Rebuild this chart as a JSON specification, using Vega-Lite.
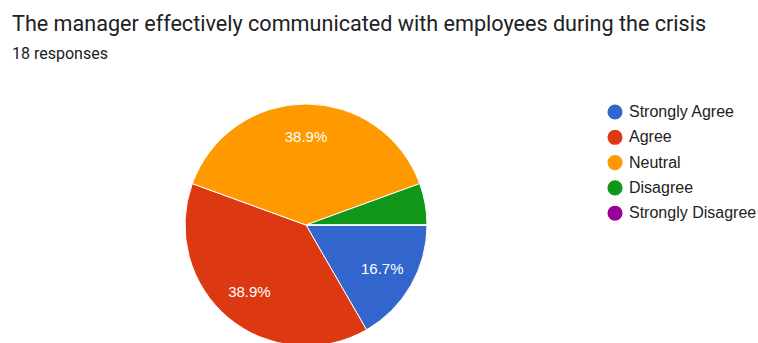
{
  "$schema": "https://vega.github.io/schema/vega-lite/v6.json",
  "width": 588,
  "height": 242,
  "autosize": {"type": "none"},
  "padding": {"left": 12, "top": 104, "right": 158, "bottom": 0},
  "background": "white",
  "view": {"stroke": null},
  "title": {
    "text": "The manager effectively communicated with employees during the crisis",
    "subtitle": "18 responses",
    "anchor": "start",
    "frame": "group",
    "font": "Roboto",
    "fontSize": 21.6,
    "fontWeight": "normal",
    "color": "#202124",
    "subtitleFont": "Roboto",
    "subtitleFontSize": 16,
    "subtitleColor": "#202124",
    "offset": 40,
    "subtitlePadding": 10
  },
  "data": {
    "values": [
      {"answer": "Strongly Agree", "count": 3, "rank": 1, "label": "16.7%"},
      {"answer": "Agree", "count": 7, "rank": 2, "label": "38.9%"},
      {"answer": "Neutral", "count": 7, "rank": 3, "label": "38.9%"},
      {"answer": "Disagree", "count": 1, "rank": 4, "label": ""},
      {"answer": "Strongly Disagree", "count": 0, "rank": 5, "label": ""}
    ]
  },
  "encoding": {
    "theta": {"field": "count", "type": "quantitative", "stack": true, "scale": {"range": [1.5707963, 7.8539816]}},
    "order": {"field": "rank", "type": "quantitative", "sort": "ascending"}
  },
  "layer": [
    {
      "mark": {"type": "arc", "outerRadius": 121, "stroke": "white", "strokeWidth": 1},
      "encoding": {
        "color": {
          "field": "answer",
          "type": "nominal",
          "scale": {
            "domain": ["Strongly Agree", "Agree", "Neutral", "Disagree", "Strongly Disagree"],
            "range": ["#3366cc", "#dc3912", "#ff9900", "#109618", "#990099"]
          },
          "legend": {
            "orient": "none",
            "legendX": 595,
            "legendY": 0,
            "title": null,
            "symbolType": "circle",
            "symbolSize": 227,
            "symbolStrokeWidth": 0,
            "labelFont": "Liberation Sans",
            "labelFontSize": 16,
            "labelColor": "#222222",
            "labelOffset": 6,
            "rowPadding": 9.3,
            "labelLimit": 300
          }
        }
      }
    },
    {
      "mark": {"type": "text", "radius": 88, "font": "Liberation Sans", "fontSize": 15, "fill": "white"},
      "encoding": {
        "detail": {"field": "answer", "type": "nominal"},
        "text": {"field": "label", "type": "nominal"}
      }
    }
  ]
}
